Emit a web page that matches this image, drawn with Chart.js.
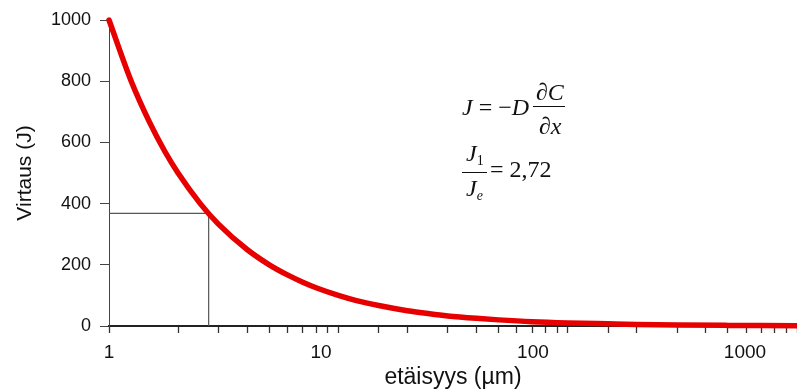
<!DOCTYPE html>
<html>
<head>
<meta charset="utf-8">
<script src="https://cdn.jsdelivr.net/npm/chart.js@4"></script>
<style>
  html, body { margin: 0; padding: 0; background: #fff; overflow: hidden; }
  #wrap { position: relative; width: 797px; height: 390px; }
  .eq { position: absolute; font-family: "Liberation Serif", "Times New Roman", serif; font-size: 24px; line-height: 24px; color: #111; white-space: nowrap; }
  .bar { position: absolute; height: 1px; background: #111; }
  .sub { font-size: 14px; font-style: normal; position: relative; top: 4px; }
</style>
</head>
<body>
<div id="wrap">
  <canvas id="graph" width="797" height="390"></canvas>
  <!-- kaava: J = -D dC/dx -->
  <div class="eq" style="left:462px; top:95px;"><i>J</i> = −<i>D</i></div>
  <div class="eq" style="left:536px; top:80px;">∂<i>C</i></div>
  <div class="bar" style="left:533px; top:106px; width:32px;"></div>
  <div class="eq" style="left:539px; top:114px;">∂<i>x</i></div>
  <!-- J1 / Je = 2,72 -->
  <div class="eq" style="left:466px; top:141px;"><i>J</i><span class="sub">1</span></div>
  <div class="bar" style="left:462px; top:172px; width:25px;"></div>
  <div class="eq" style="left:466px; top:176px;"><i>J</i><span class="sub"><i>e</i></span></div>
  <div class="eq" style="left:490px; top:157px;">= 2,72</div>
</div>
<script>
// etäisyys (µm) ja virtaus (J)
var distance = [1, 1.25, 1.5, 1.75, 2, 2.5, 3, 4, 5, 6, 7, 8, 10, 12, 15, 20, 25, 30, 40, 50, 70, 100, 150, 200, 300, 500, 700, 1000];
var flux = [1000, 800, 667, 571, 500, 400, 333, 250, 200, 167, 143, 125, 100, 83, 67, 50, 40, 33, 25, 20, 14, 10, 7, 5, 3.3, 2, 1.4, 1];

// 1/e -apuviivat
var markerX = [1, 2.72, 2.72];
var markerY = [368, 368, 0];

// akselien merkinnät
var yTicks = [0, 200, 400, 600, 800, 1000];
var xLabels = [1, 10, 100, 1000];

var toPoints = function (xs, ys) {
  return xs.map(function (x, i) { return { x: x, y: ys[i] }; });
};

var noSidePadding = function (s) {
  s.paddingLeft = 0;
  s.paddingRight = 0;
};

var ctx = document.getElementById('graph').getContext('2d');
new Chart(ctx, {
  type: 'line',
  data: {
    datasets: [
      {
        data: toPoints(distance, flux),
        borderColor: '#e60000',
        borderWidth: 5.5,
        borderCapStyle: 'round',
        pointRadius: 0,
        cubicInterpolationMode: 'monotone',
        clip: false
      },
      {
        data: toPoints(markerX, markerY),
        borderColor: '#555',
        borderWidth: 1.2,
        pointRadius: 0,
        tension: 0
      }
    ]
  },
  options: {
    responsive: false,
    animation: false,
    events: [],
    layout: { padding: { top: 20, right: 0, left: 0, bottom: -1 } },
    plugins: { legend: { display: false }, tooltip: { enabled: false } },
    scales: {
      x: {
        type: 'logarithmic',
        position: 'bottom',
        min: 1,
        max: 1000,
        ticks: { display: false },
        grid: { drawOnChartArea: false, tickLength: 7, tickColor: '#333', tickWidth: 1.3 },
        border: { display: true, color: '#222', width: 2 },
        afterFit: function (s) { s.height = 8; noSidePadding(s); }
      },
      x2: {
        type: 'logarithmic',
        position: 'bottom',
        min: 1,
        max: 1760,
        grid: { display: false, drawTicks: false },
        border: { display: false },
        ticks: {
          autoSkip: false,
          maxRotation: 0,
          padding: 7,
          color: '#111',
          font: { family: 'Liberation Sans, Arial, sans-serif', size: 19 },
          callback: function (v) { return xLabels.indexOf(v) >= 0 ? String(v) : ''; }
        },
        title: {
          display: true,
          text: 'etäisyys (µm)',
          color: '#111',
          padding: { top: 0, bottom: 0 },
          font: { family: 'Liberation Sans, Arial, sans-serif', size: 23 }
        },
        afterFit: function (s) { s.height = 57; noSidePadding(s); }
      },
      y: {
        min: 0,
        max: 1000,
        afterBuildTicks: function (s) { s.ticks = yTicks.map(function (v) { return { value: v }; }); },
        ticks: {
          padding: 9,
          color: '#111',
          font: { family: 'Liberation Sans, Arial, sans-serif', size: 18 },
          callback: function (v) { return String(v); }
        },
        grid: { drawOnChartArea: false, tickLength: 9, tickColor: '#444' },
        border: { display: true, color: '#444', width: 1 },
        title: {
          display: true,
          text: 'Virtaus (J)',
          color: '#111',
          padding: { top: 13, bottom: 0 },
          font: { family: 'Liberation Sans, Arial, sans-serif', size: 21 }
        },
        afterFit: function (s) { s.width = 109; }
      }
    }
  }
});
</script>
</body>
</html>
